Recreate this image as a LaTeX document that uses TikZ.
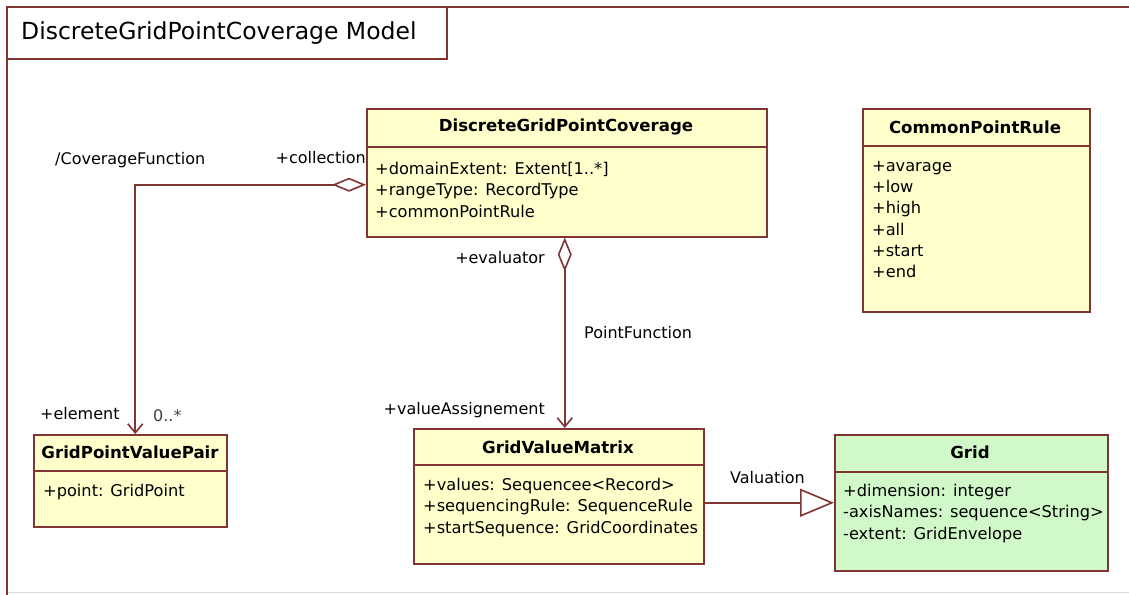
\documentclass[tikz,border=0pt]{standalone}
\usepackage{fontspec}
\setmainfont{DejaVu Sans}
\usetikzlibrary{arrows.meta}
\definecolor{umlline}{RGB}{128,52,52}
\definecolor{umlyellow}{RGB}{255,255,204}
\definecolor{umlgreen}{RGB}{208,248,200}
\tikzset{
  classbox/.style={draw=umlline, line width=1.5pt, fill=umlyellow, anchor=north west, inner sep=0pt},
  classname/.style={font=\fontsize{16.6}{20}\selectfont\bfseries, inner sep=0pt},
  attrs/.style={font=\fontsize{16.2}{21.3}\selectfont, align=left, anchor=north west, inner sep=0pt},
  rolelabel/.style={font=\fontsize{16}{20}\selectfont, inner sep=0pt},
  sepline/.style={draw=umlline, line width=1.5pt},
  assoc/.style={draw=umlline, line width=1.6pt, {Diamond[open,length=34pt,width=14pt]}-{Straight Barb[length=9pt,width=15pt]}},
  realize/.style={draw=umlline, line width=1.6pt, -{Triangle[open,length=34pt,width=28pt,fill=white]}}
}
\begin{document}
\begin{tikzpicture}[x=1pt,y=-1pt]
  \useasboundingbox (0,0) rectangle (1129,594);
  % frame and title tab
  \draw[gray!30, line width=1pt] (7,592) -- (1135,592);
  \draw[umlline, line width=1.8pt] (1135,7) -- (7,7) -- (7,600);
  \draw[umlline, line width=1.5pt] (7,7) rectangle (447,59);
  \node at (21,33) [anchor=west, font=\fontsize{23.5}{28}\selectfont, inner sep=0pt] (title) {DiscreteGridPointCoverage Model};

  % classes
  \node at (366,108) [classbox, minimum width=400, minimum height=128] (dgpc) {};
  \node at (566,127) [classname] (dgpcname) {DiscreteGridPointCoverage};
  \draw[sepline] (366,147) -- (766,147);
  \node at (375,162) [attrs] (dgpcattr) {+domainExtent: Extent[1..*]\\+rangeType: RecordType\\+commonPointRule};

  \node at (862,108) [classbox, minimum width=227, minimum height=203] (cpr) {};
  \node at (975,127) [classname] (cprname) {CommonPointRule};
  \draw[sepline] (862,146) -- (1089,146);
  \node at (872,161) [attrs] (cprattr) {+avarage\\+low\\+high\\+all\\+start\\+end};

  \node at (33,434) [classbox, minimum width=193, minimum height=92] (gpvp) {};
  \node at (130,452) [classname] (gpvpname) {GridPointValuePair};
  \draw[sepline] (33,471) -- (226,471);
  \node at (43,484) [attrs] (gpvpattr) {+point: GridPoint};

  \node at (413,428) [classbox, minimum width=290, minimum height=135] (gvm) {};
  \node at (558,447) [classname] (gvmname) {GridValueMatrix};
  \draw[sepline] (413,465) -- (703,465);
  \node at (423,478) [attrs] (gvmattr) {+values: Sequencee<Record>\\+sequencingRule: SequenceRule\\+startSequence: GridCoordinates};

  \node at (834,434) [classbox, fill=umlgreen, minimum width=273, minimum height=136] (grid) {};
  \node at (970,452) [classname] (gridname) {Grid};
  \draw[sepline] (834,472) -- (1107,472);
  \node at (843,484) [attrs] (gridattr) {+dimension: integer\\-axisNames: sequence<String>\\-extent: GridEnvelope};

  % connectors
  \draw[assoc] ([yshift=-12pt]dgpc.west) -| ([xshift=5pt]gpvp.north);
  \draw[assoc] ([xshift=-2pt]dgpc.south) -- ([xshift=-2pt]dgpc.south |- gvm.north);
  \draw[realize] (gvm.east |- grid.west) -- (grid.west);

  % role and association labels
  \node at (55,160) [rolelabel, anchor=west] (cfname) {/CoverageFunction};
  \node at (366,158) [rolelabel, anchor=east] (collection) {+collection};
  \node at (40,414) [rolelabel, anchor=west] (element) {+element};
  \node at (153,416) [rolelabel, anchor=west, text=darkgray] (mult) {0..*};
  \node at (545,258) [rolelabel, anchor=east] (evaluator) {+evaluator};
  \node at (584,333) [rolelabel, anchor=west] (pfname) {PointFunction};
  \node at (545,410) [rolelabel, anchor=east] (assign) {+valueAssignement};
  \node at (730,478) [rolelabel, anchor=west] (valuation) {Valuation};
\end{tikzpicture}
\end{document}
